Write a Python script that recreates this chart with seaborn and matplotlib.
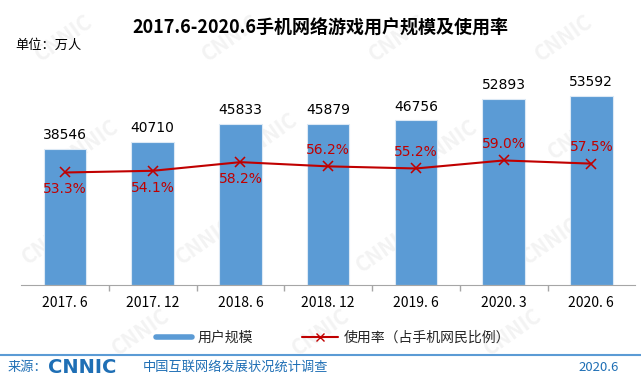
#!/usr/bin/env python
# coding: utf-8

# 2017.6-2020.6 mobile game users and usage rate (CNNIC style chart)

import pandas as pd
import seaborn as sns
import matplotlib.pyplot as plt
from matplotlib.lines import Line2D

# ==================
# data

periods = ['2017. 6', '2017. 12', '2018. 6', '2018. 12', '2019. 6', '2020. 3', '2020. 6']
users = [38546, 40710, 45833, 45879, 46756, 52893, 53592]
rates = [53.3, 54.1, 58.2, 56.2, 55.2, 59.0, 57.5]
# where each percentage label sits relative to its marker
rate_label_pos = ['below', 'below', 'below', 'above', 'above', 'above', 'above']

df = pd.DataFrame({'period': periods, 'users': users, 'rate': rates})

# ==================
# settings

sns.set_theme(style='white')
plt.rcParams['font.family'] = ['Noto Sans CJK SC', 'DejaVu Sans']

bar_blue = '#5B9BD5'
line_red = '#C00000'
text_blue = '#1F6FB5'

fig = plt.figure(figsize=(6.41, 3.77), dpi=100)
ax = fig.add_axes([0.033, 0.244, 0.958, 0.56])

# faint watermark, kept behind everything
for wx, wy in [(0.10, 0.90), (0.36, 0.90), (0.62, 0.90), (0.88, 0.90),
               (0.14, 0.62), (0.42, 0.64), (0.70, 0.62), (0.90, 0.64),
               (0.08, 0.36), (0.32, 0.36), (0.60, 0.34), (0.86, 0.36),
               (0.22, 0.12), (0.50, 0.12), (0.80, 0.12)]:
    fig.text(wx, wy, 'CNNIC', fontsize=15, fontweight='bold', color='#F3F3F3',
             rotation=35, ha='center', va='center', zorder=-5)

# ==================
# bars

sns.barplot(data=df, x='period', y='users', color=bar_blue, width=0.485,
            saturation=1, edgecolor='#DCE9F5', linewidth=0.8, ax=ax, zorder=2)
ax.set_ylim(0, 60000)
ax.set_xlim(-0.5, len(periods) - 0.5)
ax.set_xlabel('')
ax.set_ylabel('')
ax.set_yticks([])
ax.patch.set_alpha(0)
sns.despine(ax=ax, left=True, top=True, right=True)
ax.spines['bottom'].set_color('#A6A6A6')
ax.spines['bottom'].set_linewidth(0.8)
ax.tick_params(axis='x', which='major', length=0, labelsize=10, pad=8,
               labelcolor='#000000')
ax.set_xticks([i + 0.5 for i in range(len(periods) - 1)], minor=True)
ax.tick_params(axis='x', which='minor', length=4, color='#A6A6A6', direction='out',
               bottom=True)

for i, v in enumerate(users):
    ax.annotate(str(v), (i, v), xytext=(0, 5), textcoords='offset points',
                ha='center', va='bottom', fontsize=10, color='#000000',
                family='DejaVu Sans')

# ==================
# usage rate line

ax2 = ax.twinx()
sns.pointplot(x=periods, y=rates, color=line_red, markers='x', markersize=7,
              linewidth=1.5, ax=ax2, errorbar=None, zorder=3)
ax2.set_ylim(0, 100)
ax2.set_xlim(-0.5, len(periods) - 0.5)
ax2.set_yticks([])
ax2.set_ylabel('')
sns.despine(ax=ax2, left=True, top=True, right=True, bottom=True)

for i, (v, pos) in enumerate(zip(rates, rate_label_pos)):
    off = -7 if pos == 'below' else 7
    ax2.annotate('%.1f%%' % v, (i, v), xytext=(0, off), textcoords='offset points',
                 ha='center', va='top' if pos == 'below' else 'bottom',
                 fontsize=10, color=line_red, family='DejaVu Sans')

# ==================
# titles and legend

fig.text(0.5, 0.925, '2017.6-2020.6手机网络游戏用户规模及使用率', ha='center',
         va='center', fontsize=13, fontweight='bold', color='#000000')
fig.text(0.024, 0.88, '单位：万人', ha='left', va='center', fontsize=9.5,
         color='#000000')

handles = [Line2D([0], [0], color=bar_blue, lw=4),
           Line2D([0], [0], color=line_red, lw=1.5, marker='x', markersize=6)]
fig.legend(handles, ['用户规模', '使用率（占手机网民比例）'], loc='center',
           bbox_to_anchor=(0.52, 0.103), ncol=2, frameon=False, fontsize=10,
           handlelength=2.6, columnspacing=3.5, handletextpad=0.4)

# footer
fig.add_artist(Line2D([0.0, 1.0], [0.058, 0.058], transform=fig.transFigure,
                      color='#5B9BD5', lw=1.5))
fig.text(0.012, 0.026, '来源：', ha='left', va='center', fontsize=9.5,
         color=text_blue)
fig.text(0.075, 0.026, 'CNNIC', ha='left', va='center', fontsize=14,
         fontweight='heavy', color=text_blue, family='DejaVu Sans')
fig.text(0.222, 0.026, '中国互联网络发展状况统计调查', ha='left', va='center',
         fontsize=9.5, color=text_blue)
fig.text(0.965, 0.026, '2020.6', ha='right', va='center', fontsize=9.5,
         color=text_blue)

plt.savefig('out.png', dpi=100)
plt.close()
